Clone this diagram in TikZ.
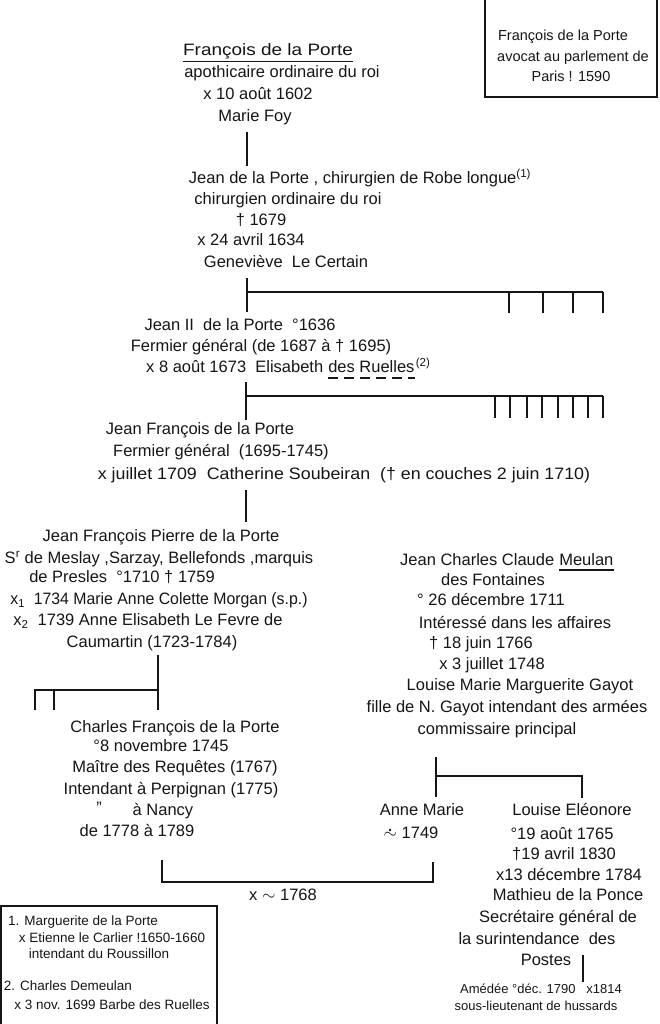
\documentclass[tikz,border=0pt]{standalone}
\usepackage{fontspec}
\setmainfont{Liberation Sans}
\definecolor{ink}{RGB}{22,22,22}
\newcommand\fsMain{\fontsize{16.5}{19}\selectfont}
\newcommand\fsBox{\fontsize{14.5}{17}\selectfont}
\newcommand\fsNote{\fontsize{13.5}{15}\selectfont}
\newcommand\fsTiny{\fontsize{13}{14}\selectfont}
\begin{document}
\begin{tikzpicture}[x=1pt,y=-1pt,
  lbl/.style={inner sep=0pt, anchor=mid, font=\fsMain, text=ink},
  lblw/.style={lbl, anchor=mid west},
  boxlbl/.style={lbl, font=\fsBox},
  notelbl/.style={lbl, font=\fsNote},
  tinylbl/.style={lbl, font=\fsTiny},
  stretch/.style={transform shape, xscale=#1},
  ln/.style={draw=ink, line width=1.6pt},
  frame/.style={draw=ink, line width=1.2pt},
  uline/.style={draw=ink, line width=1.1pt},
]
\useasboundingbox (0,0) rectangle (659,1024);
\fill[white] (0,0) rectangle (659,1024);
\clip (0,0) rectangle (659,1024);

% ---------- top right box ----------
\draw[frame] (485,-5) -- (485,97) -- (657,97) -- (657,-5);
\node[boxlbl] (r1) at (563,38) {François de la Porte};
\node[boxlbl] (r2) at (573,59) {avocat au parlement de};
\node[boxlbl] (r3) at (571,79) {Paris ! 1590};

% ---------- François de la Porte ----------
\node[lbl, stretch=1.15] (a1) at (268,53) {François de la Porte};
\draw[uline] ([yshift=-2pt]a1.south west) -- ([yshift=-2pt]a1.south east);
\node[lbl] (a2) at (282,75) {apothicaire ordinaire du roi};
\node[lbl] (a3) at (258,97) {x 10 août 1602};
\node[lbl] (a4) at (255,119) {Marie Foy};
\coordinate (v1a) at (247,132);
\coordinate (v1b) at (247,166);
\draw[ln] (v1a) -- (v1b);

% ---------- Jean de la Porte ----------
\node[lbl] (b1) at (360,181) {Jean de la Porte , chirurgien de Robe longue\textsuperscript{(1)}};
\node[lbl] (b2) at (288,202) {chirurgien ordinaire du roi};
\node[lbl] (b3) at (261,223) {† 1679};
\node[lbl] (b4) at (251,243) {x 24 avril 1634};
\node[lbl] (b5) at (286,265) {Geneviève\ \ Le Certain};
\coordinate (k1top) at (247,278);
\coordinate (k1mid) at (247,292);
\coordinate (k1bot) at (247,312);
\coordinate (k1end) at (603,292);
\draw[ln] (k1top) -- (k1bot);
\draw[ln] (k1mid) -- (k1end);
\foreach \xx in {509,543,573,603} \draw[ln] (\xx,292) -- (\xx,313);

% ---------- Jean II ----------
\node[lbl] (c1) at (240,328) {Jean II\ \ de la Porte\ \ °1636};
\node[lbl] (c2) at (261,349) {Fermier général (de 1687 à † 1695)};
\node[lblw] (c3a) at (146,370) {x 8 août 1673\ \ Elisabeth};
\node[lblw] (c3b) at ([xshift=4.6pt]c3a.mid east) {des Ruelles};
\node[inner sep=0pt, anchor=base west, font=\fsMain, text=ink] (c3c) at ([xshift=1pt]c3b.base east) {\textsuperscript{(2)}};
\draw[uline, dash pattern=on 10pt off 6pt] ([yshift=-5pt]c3b.south west) -- ([yshift=-5pt]c3b.south east);
\coordinate (k2top) at (246,382);
\coordinate (k2mid) at (246,396);
\coordinate (k2bot) at (246,420);
\coordinate (k2end) at (603,396);
\draw[ln] (k2top) -- (k2bot);
\draw[ln] (k2mid) -- (k2end);
\foreach \xx in {495,510,527,542,558,573,588,603} \draw[ln] (\xx,396) -- (\xx,418);

% ---------- Jean François ----------
\node[lbl] (d1) at (200,432) {Jean François de la Porte};
\node[lbl] (d2) at (221,454) {Fermier général\ \ (1695-1745)};
\node[lbl, stretch=1.08] (d3) at (344,477) {x juillet 1709\ \ Catherine Soubeiran\ \ († en couches 2 juin 1710)};
\coordinate (v2a) at (246,490);
\coordinate (v2b) at (246,522);
\draw[ln] (v2a) -- (v2b);

% ---------- Jean François Pierre ----------
\node[lbl] (e1) at (161,539) {Jean François Pierre de la Porte};
\node[lbl] (e2) at (159,561) {S\textsuperscript{r} de Meslay ,Sarzay, Bellefonds ,marquis};
\node[lbl] (e3) at (122,580) {de Presles\ \ °1710 † 1759};
\node[lbl, stretch=0.96] (e4) at (159,602) {x\textsubscript{1}\ \ 1734 Marie Anne Colette Morgan (s.p.)};
\node[lbl] (e5) at (148,623) {x\textsubscript{2}\ \ 1739 Anne Elisabeth Le Fevre de};
\node[lbl] (e6) at (152,645) {Caumartin (1723-1784)};
\coordinate (k3top) at (158,655);
\coordinate (k3mid) at (158,690);
\coordinate (k3bot) at (158,710);
\coordinate (k3end) at (35,690);
\draw[ln] (k3top) -- (k3bot);
\draw[ln] (k3mid) -- (k3end) -- (35,710);
\draw[ln] (54,690) -- (54,710);

% ---------- Charles François ----------
\node[lbl] (f1) at (175,730) {Charles François de la Porte};
\node[lbl] (f2) at (161,749) {°8 novembre 1745};
\node[lbl] (f3) at (175,770) {Maître des Requêtes (1767)};
\node[lbl] (f4) at (171,792) {Intendant à Perpignan (1775)};
\node[lbl] (f5a) at (99,811) {"};
\node[lbl] (f5) at (163,813) {à Nancy};
\node[lbl] (f6) at (137,834) {de 1778 à 1789};

% ---------- Meulan ----------
\node[lblw] (g1a) at (400,563) {Jean Charles Claude};
\node[lblw] (g1b) at ([xshift=4.6pt]g1a.mid east) {Meulan};
\draw[uline] ([yshift=-4pt]g1b.south west) -- ([yshift=-4pt]g1b.south east);
\node[lbl] (g2) at (493,583) {des Fontaines};
\node[lbl] (g3) at (491,603) {° 26 décembre 1711};
\node[lbl] (g4) at (515,626) {Intéressé dans les affaires};
\node[lbl] (g5) at (481,646) {† 18 juin 1766};
\node[lbl] (g6) at (492,667) {x 3 juillet 1748};
\node[lbl] (g7) at (520,688) {Louise Marie Marguerite Gayot};
\node[lbl] (g8) at (507,710) {fille de N. Gayot intendant des armées};
\node[lbl] (g9) at (497,732) {commissaire principal};
\coordinate (k4top) at (436,757);
\coordinate (k4mid) at (436,776);
\coordinate (k4bot) at (436,797);
\coordinate (k4end) at (582,776);
\coordinate (k4tick) at (582,798);
\draw[ln] (k4top) -- (k4bot);
\draw[ln] (k4mid) -- (k4end) -- (k4tick);

% ---------- children ----------
\node[lbl] (h1) at (422,813) {Anne Marie};
\node[lbl] (h2) at (411,836) {$\sim$ 1749};
\fill[ink] ([xshift=6.5pt,yshift=6pt]h2.mid west) circle (1.4pt);
\node[lbl] (i1) at (572,813) {Louise Eléonore};
\node[lbl] (i2) at (562,837) {°19 août 1765};
\node[lbl] (i3) at (564,857) {†19 avril 1830};
\node[lbl] (i4) at (569,878) {x13 décembre 1784};
\node[lbl] (i5) at (568,898) {Mathieu de la Ponce};
\node[lbl] (i6) at (558,920) {Secrétaire général de};
\node[lbl] (i7) at (537,942) {la surintendance\ \ des};
\node[lbl] (i8) at (546,963) {Postes};
\coordinate (v3a) at (583,955);
\coordinate (v3b) at (583,982);
\draw[ln] (v3a) -- (v3b);
\node[tinylbl] (j1) at (541,991) {Amédée °déc. 1790\ \ \ x1814};
\node[tinylbl] (j2) at (536,1008) {sous-lieutenant de hussards};

% ---------- marriage bracket ----------
\coordinate (m1) at (162,860);
\coordinate (m2) at (162,882);
\coordinate (m3) at (433,882);
\coordinate (m4) at (433,862);
\draw[ln] (m1) -- (m2) -- (m3) -- (m4);
\node[lbl] (mx) at (283,898) {x $\sim$ 1768};

% ---------- notes box ----------
\draw[frame] (1,1030) -- (1,906) -- (217,906) -- (217,1030);
\node[notelbl] (n1) at (83,923) {1. Marguerite de la Porte};
\node[notelbl] (n2) at (112,940) {x Etienne le Carlier !1650-1660};
\node[notelbl] (n3) at (99,956) {intendant du Roussillon};
\node[notelbl] (n4) at (68,988) {2. Charles Demeulan};
\node[notelbl] (n5) at (112,1007) {x 3 nov. 1699 Barbe des Ruelles};
\end{tikzpicture}
\end{document}
